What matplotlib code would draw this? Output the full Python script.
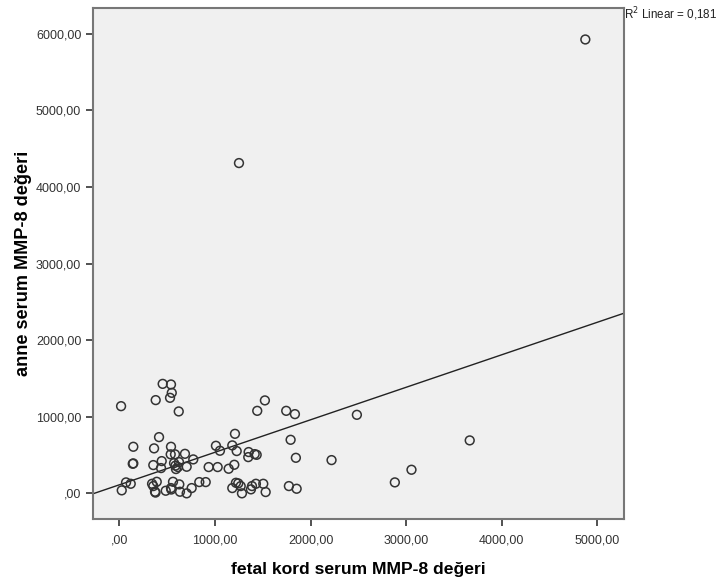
import numpy as np
import matplotlib.pyplot as plt
from matplotlib.ticker import FuncFormatter

plt.rcParams['font.family'] = ['Liberation Sans', 'DejaVu Sans']

# fetal cord serum MMP-8 (x) vs maternal serum MMP-8 (y)
fetal = [18, 25, 70, 119, 146, 140, 146, 453, 540, 548, 530, 380, 621, 415,
         363, 540, 443, 355, 436, 537, 582, 572, 587, 613, 624, 592, 686,
         773, 704, 342, 391, 355, 373, 378, 485, 540, 543, 561, 627, 634,
         704, 756, 836, 903, 934, 1028, 1010, 1052, 1143, 1181, 1209, 1202,
         1227, 1181, 1219, 1243, 1269, 1282, 1352, 1348, 1415, 1436, 1376,
         1387, 1428, 1505, 1530, 1442, 1522, 1745, 1836, 1791, 1846, 1773,
         1854, 2219, 2484, 2881, 3055, 3664, 1251, 4873]
anne = [1138, 39, 143, 125, 608, 386, 391, 1429, 1421, 1312, 1247, 1217,
        1069, 734, 587, 608, 421, 369, 330, 509, 509, 395, 362, 343, 408,
        317, 516, 443, 347, 125, 151, 95, 21, 10, 34, 69, 50, 151, 117, 21,
        0, 69, 147, 147, 343, 343, 621, 556, 321, 626, 777, 373, 552, 69,
        138, 130, 95, 0, 539, 473, 512, 503, 52, 95, 125, 125, 17, 1077,
        1213, 1077, 1034, 699, 464, 95, 60, 434, 1025, 143, 308, 691, 4311,
        5924]
r2_linear = 0.181

x_ticks = [0, 1000, 2000, 3000, 4000, 5000]
y_ticks = [0, 1000, 2000, 3000, 4000, 5000, 6000]

x = np.array(fetal, dtype=float)
y = np.array(anne, dtype=float)
slope, intercept = np.polyfit(x, y, 1)

fig = plt.figure(figsize=(7.27, 5.79), dpi=100)
ax = fig.add_axes([0.128, 0.1036, 0.730, 0.8826])
ax.set_facecolor('#f0f0f0')

ax.scatter(x, y, s=40, facecolors='none', edgecolors='#333333', linewidths=1.1, zorder=3)

# least squares line across the whole x range
xmin, xmax = -275, 5275
xs = np.array([xmin, xmax])
ax.plot(xs, intercept + slope * xs, color='#222222', lw=1.0, zorder=2)

ax.set_xlim(xmin, xmax)
ax.set_ylim(-335, 6335)
ax.set_xticks(x_ticks)
ax.set_yticks(y_ticks)

fmt = FuncFormatter(lambda v, p: ',00' if v == 0 else '%d,00' % v)
ax.xaxis.set_major_formatter(fmt)
ax.yaxis.set_major_formatter(fmt)
ax.tick_params(axis='both', direction='out', length=5, width=1.2, color='#333333',
               labelsize=9, labelcolor='#333333')
ax.tick_params(axis='x', pad=6)

for side in ['left', 'bottom', 'right', 'top']:
    ax.spines[side].set_color('#777777')
    ax.spines[side].set_linewidth(1.5)

ax.set_xlabel('fetal kord serum MMP-8 değeri', fontsize=12.6, fontweight='bold', labelpad=11)
ax.set_ylabel('anne serum MMP-8 değeri', fontsize=13.1, fontweight='bold', labelpad=3)

fig.text(0.859, 0.960, 'R$^2$ Linear = ' + ('%.3f' % r2_linear).replace('.', ','),
         fontsize=8.4, color='#222222', ha='left', va='bottom')

fig.savefig('out.png', dpi=100)
